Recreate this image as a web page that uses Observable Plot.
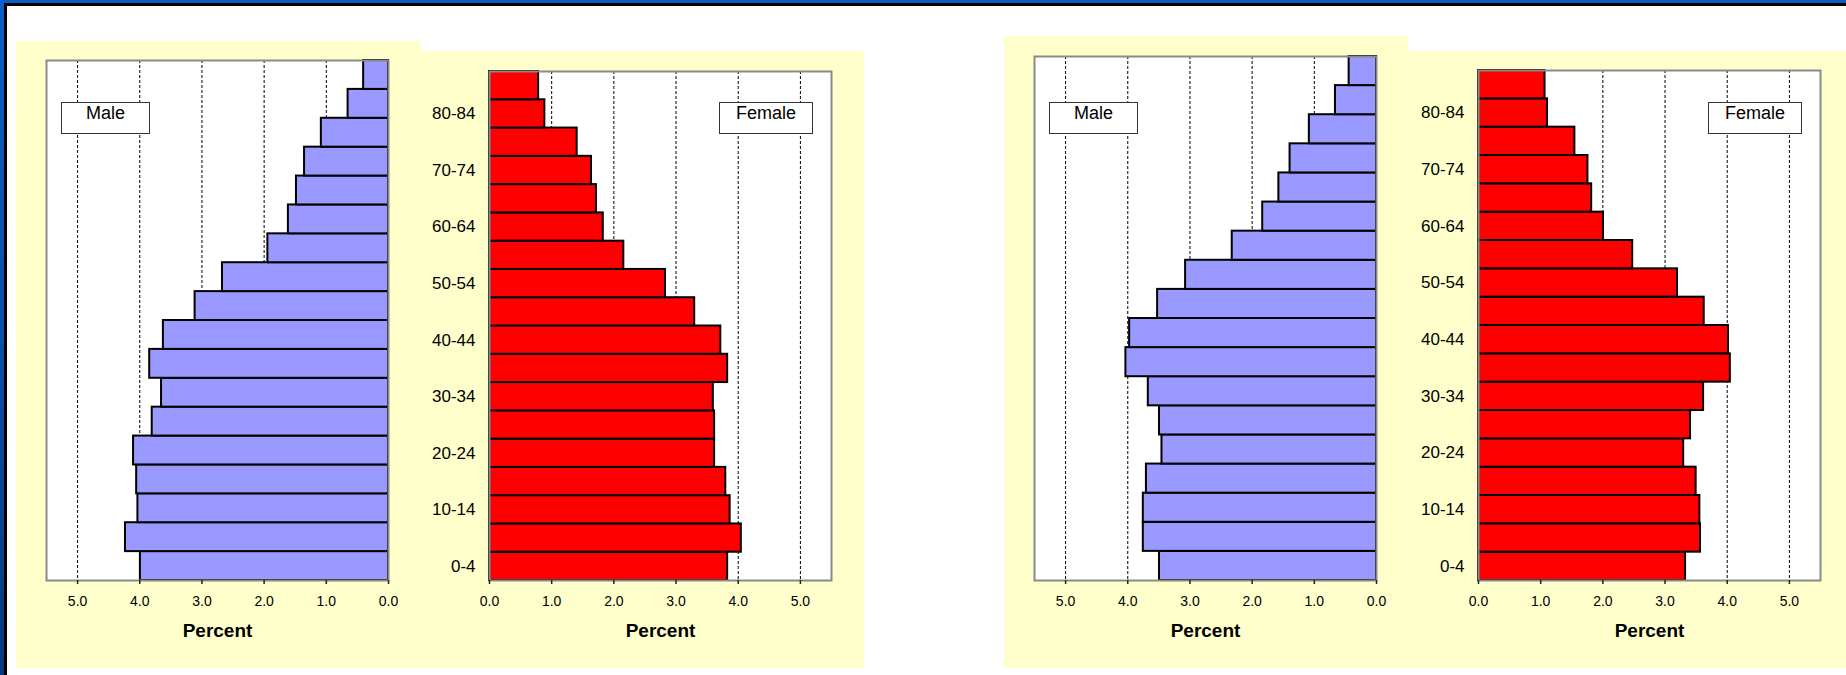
<!DOCTYPE html>
<html>
<head>
<meta charset="utf-8">
<script src="https://cdn.jsdelivr.net/npm/d3@7"></script>
<script src="https://cdn.jsdelivr.net/npm/@observablehq/plot@0.6"></script>
<style>
  html, body { margin: 0; padding: 0; background: #fff; }
  #stage { position: relative; width: 1846px; height: 675px; overflow: hidden; background: #fff;
           font-family: "Liberation Sans", Arial, sans-serif; }
  .panel { position: absolute; background: #FFFFCC; }
  .edge { position: absolute; }
  .tag { position: absolute; box-sizing: border-box; background: #fff; border: 1.5px solid #333;
         font-size: 18px; line-height: 18px; padding-top: 1px; text-align: center; color: #000;
         font-family: "Liberation Sans", Arial, sans-serif; }
  svg.chart { position: absolute; overflow: visible; }
</style>
</head>
<body>
<div id="stage"></div>
<script>
// ---- data (bottom age group first) ----
const ageGroups = ["0-4","5-9","10-14","15-19","20-24","25-29","30-34","35-39","40-44",
                   "45-49","50-54","55-59","60-64","65-69","70-74","75-79","80-84","85+"];
const ageTicks = ["0-4","10-14","20-24","30-34","40-44","50-54","60-64","70-74","80-84"];
const percentTicks = [0, 1, 2, 3, 4, 5];

const maleLeft    = [3.99, 4.23, 4.03, 4.05, 4.10, 3.80, 3.65, 3.84, 3.62, 3.11, 2.67, 1.94, 1.61, 1.48, 1.35, 1.08, 0.65, 0.40];
const femaleLeft  = [3.83, 4.05, 3.87, 3.80, 3.62, 3.62, 3.60, 3.83, 3.72, 3.30, 2.83, 2.16, 1.83, 1.72, 1.64, 1.41, 0.89, 0.79];
const maleRight   = [3.49, 3.75, 3.75, 3.70, 3.45, 3.49, 3.67, 4.03, 3.97, 3.52, 3.07, 2.32, 1.83, 1.57, 1.39, 1.08, 0.66, 0.44];
const femaleRight = [3.33, 3.57, 3.56, 3.50, 3.30, 3.41, 3.62, 4.05, 4.02, 3.63, 3.20, 2.48, 2.01, 1.82, 1.76, 1.55, 1.11, 1.07];

const maleLabel = "Male";
const femaleLabel = "Female";
const axisTitle = "Percent";

const stage = document.getElementById("stage");

function addDiv(cls, css, text) {
  const d = document.createElement("div");
  d.className = cls;
  Object.assign(d.style, css);
  if (text) d.textContent = text;
  stage.appendChild(d);
  return d;
}

// slide frame
addDiv("edge", {left: "0px", top: "0px", width: "4px", height: "675px",
  background: "linear-gradient(#0b5fc6, #0a4fa8 50%, #053a7c)"});
addDiv("edge", {left: "4px", top: "0px", width: "3px", height: "675px", background: "#000"});
addDiv("edge", {left: "0px", top: "0px", width: "1846px", height: "3px", background: "#0b5cc0"});
addDiv("edge", {left: "4px", top: "3px", width: "1842px", height: "3px", background: "#000"});

// yellow panels
addDiv("panel", {left: "16px", top: "41px", width: "404px", height: "627px"});
addDiv("panel", {left: "420px", top: "51px", width: "444px", height: "617px"});
addDiv("panel", {left: "1004px", top: "36px", width: "404px", height: "632px"});
addDiv("panel", {left: "1408px", top: "51px", width: "438px", height: "617px"});

function pyramid({values, side, fill, area}) {
  const female = side === "female";
  const mL = female ? 80 : 12, mR = 12, mT = 8, mB = 80;
  const rows = ageGroups.map((age, i) => ({age, value: values[i]}));
  const chart = Plot.plot({
    width: area.w + mL + mR,
    height: area.h + mT + mB,
    marginLeft: mL, marginRight: mR, marginTop: mT, marginBottom: mB,
    style: {background: "transparent", fontFamily: "Liberation Sans, Arial, sans-serif",
            fontSize: "14px", color: "#000", overflow: "visible"},
    x: {domain: [0, 5.5], reverse: !female, axis: null, label: null},
    y: {domain: ageGroups.slice().reverse(), padding: 0, round: false, axis: null, label: null},
    marks: [
      Plot.frame({fill: "white"}),
      Plot.gridX(percentTicks.filter(d => d > 0),
        {stroke: "#000", strokeOpacity: 1, strokeWidth: 1, strokeDasharray: "3,2"}),
      Plot.barX(rows, {x: "value", y: "age", fill, stroke: "#000", strokeWidth: 2}),
      Plot.frame({stroke: "#8a8a8a", strokeWidth: 2}),
      Plot.axisX({anchor: "bottom", ticks: percentTicks, tickFormat: d3.format(".1f"),
        tickSize: 4, tickPadding: 12, fontSize: 14, stroke: "#222", strokeWidth: 1.5, label: null}),
      female ? Plot.axisY({anchor: "left", ticks: ageTicks, tickSize: 0, tickPadding: 14,
        fontSize: 17, label: null}) : null,
      Plot.text([axisTitle], {text: d => d, frameAnchor: "bottom", lineAnchor: "middle", dy: 50,
        fontWeight: "bold", fontSize: 19, fill: "#000"})
    ]
  });
  chart.classList.add("chart");
  chart.style.left = (area.x - mL) + "px";
  chart.style.top = (area.y - mT) + "px";
  stage.appendChild(chart);

  if (female) {
    addDiv("tag", {left: (area.x + area.w - 18 - 94) + "px", top: "102px", width: "94px", height: "32px"}, femaleLabel);
  } else {
    addDiv("tag", {left: (area.x + 15) + "px", top: "102px", width: "89px", height: "32px"}, maleLabel);
  }
}

pyramid({values: maleLeft,    side: "male",   fill: "#9999FF", area: {x: 46,   y: 60,  w: 342, h: 520}});
pyramid({values: femaleLeft,  side: "female", fill: "#FF0000", area: {x: 489,  y: 71,  w: 342, h: 509}});
pyramid({values: maleRight,   side: "male",   fill: "#9999FF", area: {x: 1034, y: 56,  w: 342, h: 524}});
pyramid({values: femaleRight, side: "female", fill: "#FF0000", area: {x: 1478, y: 70,  w: 342, h: 510}});
</script>
</body>
</html>
